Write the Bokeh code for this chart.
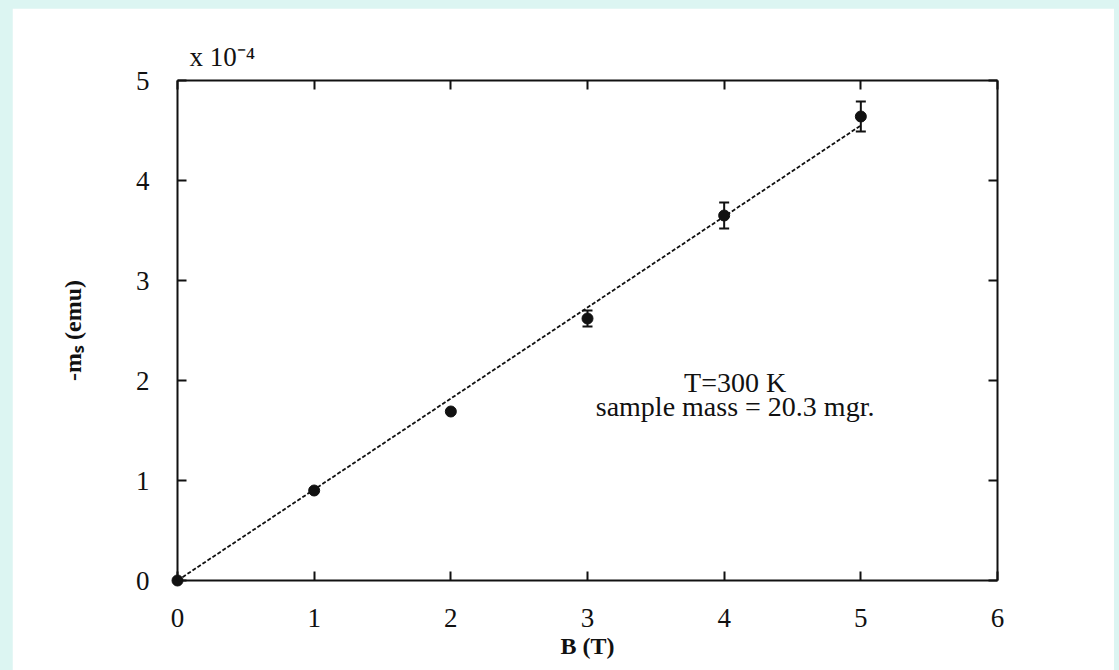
from bokeh.plotting import figure
from bokeh.models import (ColumnDataSource, Range1d, LinearAxis, FixedTicker,
                          Whisker, TeeHead, Label)
from bokeh.embed import file_html
from bokeh.resources import INLINE

# ---- data (values in units of 1e-4 emu) ----
field_T = [0, 1, 2, 3, 4, 5]
moment = [0.0, 0.90, 1.69, 2.62, 3.65, 4.64]
moment_err = [0.0, 0.0, 0.0, 0.08, 0.13, 0.15]
fit_B = [0, 5]
fit_m = [0.0, 4.55]
x_ticks = [0, 1, 2, 3, 4, 5, 6]
y_ticks = [0, 1, 2, 3, 4, 5]
x_label = "B (T)"
y_label = "-m\u209b (emu)"
scale_text = "x 10\u207b\u2074"
note_lines = ["T=300 K", "sample mass = 20.3 mgr."]

FONT = "Liberation Serif"
INK = "#111111"
BG = "#dcf5f2"

p = figure(width=1102, height=662, output_backend="svg", toolbar_location=None,
           x_range=Range1d(0, 6), y_range=Range1d(0, 5),
           min_border_left=165, min_border_right=117,
           min_border_top=72, min_border_bottom=90,
           background_fill_color="white", border_fill_color="white",
           outline_line_color=None)
p.margin = (8, 0, 0, 12)
p.grid.visible = False

# axis multiplier shown at the top-left corner of the frame
p.title.text = scale_text
p.title.align = "left"
p.title.offset = 12
p.title.standoff = 17
p.title.text_font = FONT
p.title.text_font_size = "27px"
p.title.text_font_style = "normal"
p.title.text_color = INK

top_axis = LinearAxis()
right_axis = LinearAxis()
p.add_layout(top_axis, "above")
p.add_layout(right_axis, "right")


def style_axis(ax, ticks, show_labels):
    ax.ticker = FixedTicker(ticks=ticks)
    ax.major_tick_in = 9
    ax.major_tick_out = 0
    ax.minor_tick_in = 0
    ax.minor_tick_out = 0
    ax.axis_line_width = 2
    ax.axis_line_color = INK
    ax.major_tick_line_width = 2
    ax.major_tick_line_color = INK
    ax.major_label_text_font = FONT
    ax.major_label_text_font_size = "27px"
    ax.major_label_text_color = INK
    if not show_labels:
        ax.major_label_overrides = {t: "" for t in ticks}
        ax.major_label_text_font_size = "1px"
        ax.major_label_standoff = 0


for ax in p.below:
    style_axis(ax, x_ticks, True)
    ax.major_label_standoff = 28
    ax.axis_label = x_label
    ax.axis_label_standoff = 3
for ax in p.left:
    style_axis(ax, y_ticks, True)
    ax.major_label_standoff = 28
    ax.axis_label = y_label
    ax.axis_label_standoff = 47
style_axis(top_axis, x_ticks, False)
style_axis(right_axis, y_ticks, False)

for ax in list(p.below) + list(p.left):
    ax.axis_label_text_font = FONT
    ax.axis_label_text_font_size = "24px"
    ax.axis_label_text_font_style = "bold"
    ax.axis_label_text_color = INK

# fitted line
p.line(fit_B, fit_m, line_color=INK, line_width=1.8, line_dash="4 2")

# data points (drawn at guide level so the origin point is not cut by the frame)
src = ColumnDataSource(dict(B=field_T, m=moment))
p.scatter("B", "m", source=src, size=11, color=INK, level="guide")

# error bars
eb = [(b, m, e) for b, m, e in zip(field_T, moment, moment_err) if e > 0]
err_src = ColumnDataSource(dict(
    B=[r[0] for r in eb],
    upper=[r[1] + r[2] for r in eb],
    lower=[r[1] - r[2] for r in eb],
))
p.add_layout(Whisker(source=err_src, base="B", upper="upper", lower="lower",
                     dimension="height", line_color=INK, line_width=2,
                     upper_head=TeeHead(size=10, line_width=2, line_color=INK),
                     lower_head=TeeHead(size=10, line_width=2, line_color=INK)))

# annotation
p.add_layout(Label(x=4.08, y=1.83, text=note_lines[0], text_font=FONT,
                   text_font_size="28px", text_color=INK, text_align="center"))
p.add_layout(Label(x=4.08, y=1.59, text=note_lines[1], text_font=FONT,
                   text_font_size="28px", text_color=INK, text_align="center"))

html = file_html(p, INLINE, title="Magnetic moment vs field")
style = ("<style>html, body { margin: 0 !important; padding: 0 !important; "
         "background-color: %s !important; overflow: hidden !important; }</style>" % BG)
i = html.rfind("</head>")
html = html[:i] + style + html[i:]
open("out.html", "w").write(html)
